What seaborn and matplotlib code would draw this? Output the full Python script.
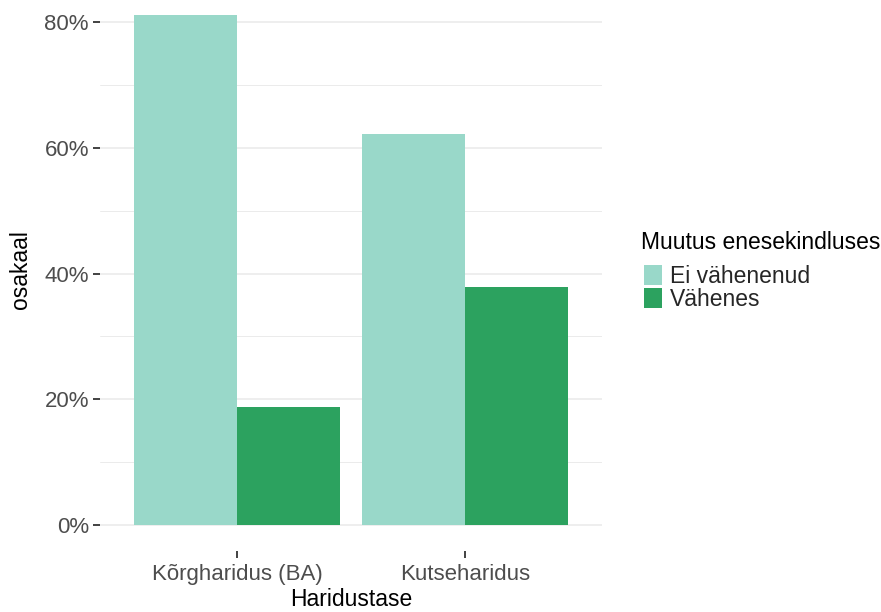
import matplotlib
matplotlib.use("Agg")
import matplotlib.pyplot as plt
from matplotlib.patches import Patch
from matplotlib.ticker import MultipleLocator, FuncFormatter
import seaborn as sns
import pandas as pd

categories = ["Kõrgharidus (BA)", "Kutseharidus"]
groups = ["Ei vähenenud", "Vähenes"]
ei_vahenenud = [0.812, 0.622]
vahenes = [0.188, 0.378]
colors = ["#99d8c9", "#2ca25f"]
legend_title = "Muutus enesekindluses"

df = pd.DataFrame({
    "Haridustase": categories * 2,
    "Muutus": [groups[0]] * 2 + [groups[1]] * 2,
    "osakaal": ei_vahenenud + vahenes,
})

sns.set_theme(style="white")
plt.rcParams["font.family"] = ["Liberation Sans", "DejaVu Sans"]

fig = plt.figure(figsize=(8.81, 6.12), dpi=100)
ax = fig.add_axes([100 / 881, 1 - 550.5 / 612, 502 / 881, (550.5 + 11) / 612])

sns.barplot(data=df, x="Haridustase", y="osakaal", hue="Muutus",
            hue_order=groups, palette=colors, width=0.9, gap=0,
            saturation=1, ax=ax, legend=False, linewidth=0)

ymax = max(ei_vahenenud + vahenes)
ax.set_ylim(-0.05 * ymax, ymax * 1.05)
ax.set_xlim(-0.6, 1.6)
ax.yaxis.set_major_locator(MultipleLocator(0.2))
ax.yaxis.set_minor_locator(MultipleLocator(0.1))
ax.yaxis.set_major_formatter(FuncFormatter(lambda v, p: f"{v*100:.0f}%"))
ax.grid(axis="y", which="major", color="#ebebeb", linewidth=1.2)
ax.grid(axis="y", which="minor", color="#ebebeb", linewidth=0.7)
ax.grid(axis="x", visible=False)
ax.set_axisbelow(True)
for s in ax.spines.values():
    s.set_visible(False)

ax.tick_params(axis="both", which="major", length=5, width=1.3, color="#333333",
               labelsize=16, labelcolor="#4d4d4d", pad=3, direction="out")
ax.tick_params(axis="y", which="minor", length=0)
ax.tick_params(axis="x", pad=5)
ax.yaxis.set_ticks_position("left")
ax.xaxis.set_ticks_position("bottom")

ax.set_xlabel("Haridustase", fontsize=16.5, color="black", labelpad=2)
ax.set_ylabel("osakaal", fontsize=16.5, color="black", labelpad=9)

fig.text(641 / 881, 1 - 243 / 612, legend_title, fontsize=16.5, color="black",
         ha="left", va="center")
handles = [Patch(facecolor=c, edgecolor="none") for c in colors]
leg = fig.legend(handles, groups,
                 loc="upper left", bbox_to_anchor=(644 / 881, 1 - 265 / 612),
                 frameon=False, fontsize=16.5,
                 handlelength=0.8, handleheight=0.95, handletextpad=0.35,
                 labelspacing=0.0, borderpad=0, borderaxespad=0)

fig.savefig("out.png", dpi=100)
